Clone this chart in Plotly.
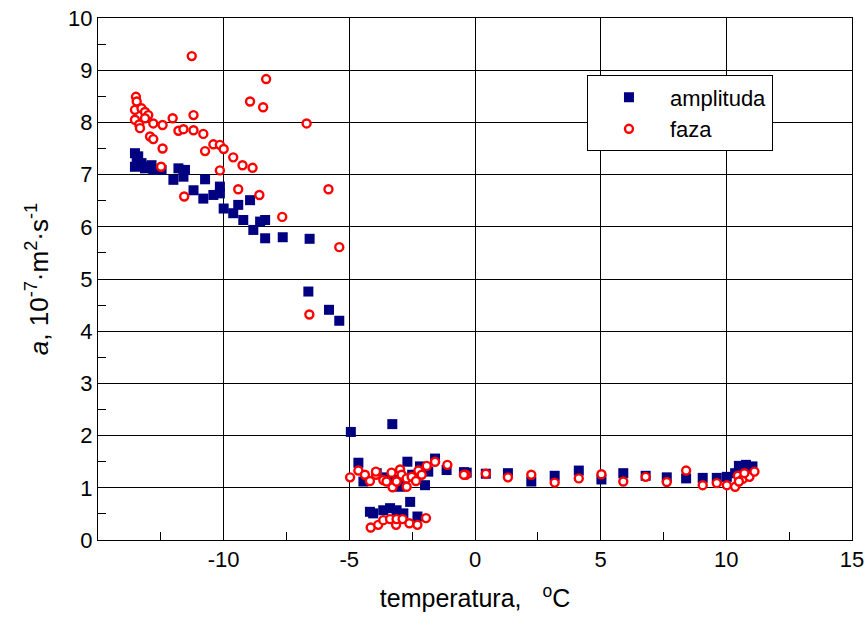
import plotly.graph_objects as go

amp_x = [-13.53, -13.46, -13.53, -13.27, -13.13, -12.87, -12.8, -12.47, -11.8, -11.54, -12.0, -11.6,
         -10.74, -11.2, -10.81, -10.41, -10.15, -10.15, -10.0, -9.62, -9.42, -8.95, -9.22, -8.82,
         -8.55, -8.35, -8.35, -7.65, -6.58, -6.63, -5.81, -5.40, -13.4, -13.3, -13.0,
         -4.94, -3.29, -4.64, -2.69, -1.59, -2.19, -1.86, -1.13, -0.33, -4.44, -3.91, -2.98, -1.99,
         -2.58, -3.5, -3.2, -2.5, -2.8,
         -4.18, -4.05, -3.65, -3.38, -3.12, -2.85, -2.29,
         -0.44, 0.43, 1.31, 2.24, 3.17, 4.13, 5.03, 5.9, 6.79, 7.63, 8.4, 9.06, 9.62, 10.02,
         10.35, 10.5, 10.65, 10.78, 10.88, 11.04]
amp_y = [7.41, 7.28, 7.15, 7.22, 7.12, 7.18, 7.09, 7.09, 7.12, 7.09, 6.9, 6.96,
         6.91, 6.70, 6.54, 6.61, 6.77, 6.64, 6.35, 6.26, 6.42, 6.51, 6.13, 5.94,
         6.1, 6.13, 5.78, 5.80, 5.77, 4.76, 4.41, 4.20, 7.35, 7.18, 7.15,
         2.07, 2.22, 1.48, 1.50, 1.56, 1.41, 1.31, 1.34, 1.29, 1.12, 1.28, 1.02, 1.05,
         0.73, 1.2, 1.15, 1.25, 1.1,
         0.54, 0.51, 0.57, 0.61, 0.57, 0.51, 0.45,
         1.30, 1.27, 1.28, 1.12, 1.23, 1.33, 1.16, 1.28, 1.23, 1.20, 1.18, 1.19, 1.19, 1.21,
         1.28, 1.42, 1.35, 1.44, 1.31, 1.41]

faza_x = [-11.27, -8.31, -8.95, -8.43, -6.70, -13.49, -13.46, -13.53, -13.27, -13.13, -13.0, -13.13,
          -13.53, -13.36, -13.33, -12.80, -12.43, -12.03, -11.2, -11.8, -11.6, -11.2, -10.81, -12.93,
          -12.8, -12.43, -10.74, -10.41, -10.15, -10.0, -9.62, -9.25, -8.85, -12.49, -10.15, -9.42,
          -5.83, -8.58, -11.57, -7.67, -6.59, -5.40,
          -4.97, -4.64, -4.38, -4.18, -3.94, -3.94, -3.65, -3.32, -3.28, -3.12, -2.98, -2.92, -2.72,
          -2.52, -2.72, -2.25, -2.12, -1.92, -1.59, -1.10, -0.36, -2.35, -3.52,
          -4.15, -3.85, -3.65, -3.38, -3.14, -3.12, -2.88, -2.61, -2.29, -1.95,
          -0.44, 0.43, 1.31, 2.24, 3.17, 4.13, 5.03, 5.9, 6.79, 7.63, 8.4, 9.06, 9.62, 10.02,
          10.35, 10.46, 10.65, 10.92, 11.12, 10.5, 10.72]
faza_y = [9.27, 8.83, 8.40, 8.29, 7.98, 8.49, 8.40, 8.24, 8.27, 8.2, 8.14, 8.08,
          8.05, 7.96, 7.89, 7.98, 7.95, 8.08, 8.14, 7.84, 7.87, 7.85, 7.78, 7.73,
          7.68, 7.5, 7.45, 7.58, 7.57, 7.49, 7.33, 7.18, 7.13, 7.15, 7.08, 6.72,
          6.72, 6.61, 6.58, 6.19, 4.32, 5.61,
          1.20, 1.33, 1.25, 1.13, 1.25, 1.31, 1.15, 1.29, 1.01, 1.12, 1.35, 1.25, 1.18,
          1.21, 1.02, 1.33, 1.25, 1.42, 1.50, 1.44, 1.25, 1.13, 1.12,
          0.24, 0.29, 0.38, 0.40, 0.29, 0.40, 0.40, 0.32, 0.29, 0.42,
          1.25, 1.27, 1.2, 1.25, 1.10, 1.18, 1.26, 1.12, 1.21, 1.11, 1.33, 1.05, 1.09, 1.05,
          1.02, 1.23, 1.17, 1.21, 1.31, 1.12, 1.28]

x_ticks = [-10, -5, 0, 5, 10, 15]
y_ticks = list(range(0, 11))

FONT = "Liberation Sans, Arial, sans-serif"

fig = go.Figure()
fig.add_trace(go.Scatter(x=amp_x, y=amp_y, mode="markers", name="amplituda",
                         marker=dict(symbol="square", size=10, color="#000080",
                                     line=dict(width=0))))
fig.add_trace(go.Scatter(x=faza_x, y=faza_y, mode="markers", name="faza",
                         marker=dict(symbol="circle", size=8, color="white",
                                     line=dict(width=2.4, color="#FF0000"))))

axis_common = dict(showline=True, linecolor="black", linewidth=1, mirror=True,
                   showgrid=True, gridcolor="black", gridwidth=1, zeroline=False,
                   ticks="inside", ticklen=8, tickcolor="black", automargin=False,
                   tickfont=dict(size=22, color="black", family=FONT))

fig.update_layout(
    width=865, height=617,
    margin=dict(l=98, r=13, t=18, b=77),
    paper_bgcolor="white", plot_bgcolor="white",
    font=dict(family=FONT, color="black"),
    xaxis=dict(range=[-15, 15], tickvals=x_ticks, ticktext=[str(v) for v in x_ticks],
               minor=dict(dtick=2.5, tick0=0, ticks="inside", ticklen=8, tickcolor="black", showgrid=False),
               title=dict(text="temperatura,&nbsp;&nbsp;&nbsp;<sup>o</sup>C", font=dict(size=25), standoff=18),
               **axis_common),
    yaxis=dict(range=[0, 10], tickvals=y_ticks, ticktext=[str(v) for v in y_ticks],
               minor=dict(dtick=0.5, tick0=0, ticks="inside", ticklen=8, tickcolor="black", showgrid=False),
               title=dict(text="<i>a</i>, 10<sup>-7</sup>·m<sup>2</sup>·s<sup>-1</sup>", font=dict(size=26), standoff=12),
               **axis_common),
    legend=dict(x=0.6485, y=0.89, xanchor="left", yanchor="top",
                bgcolor="white", bordercolor="black", borderwidth=1,
                font=dict(size=22, color="black", family=FONT),
                itemwidth=72, tracegroupgap=0),
    showlegend=True,
)

fig.write_html("out.html")
